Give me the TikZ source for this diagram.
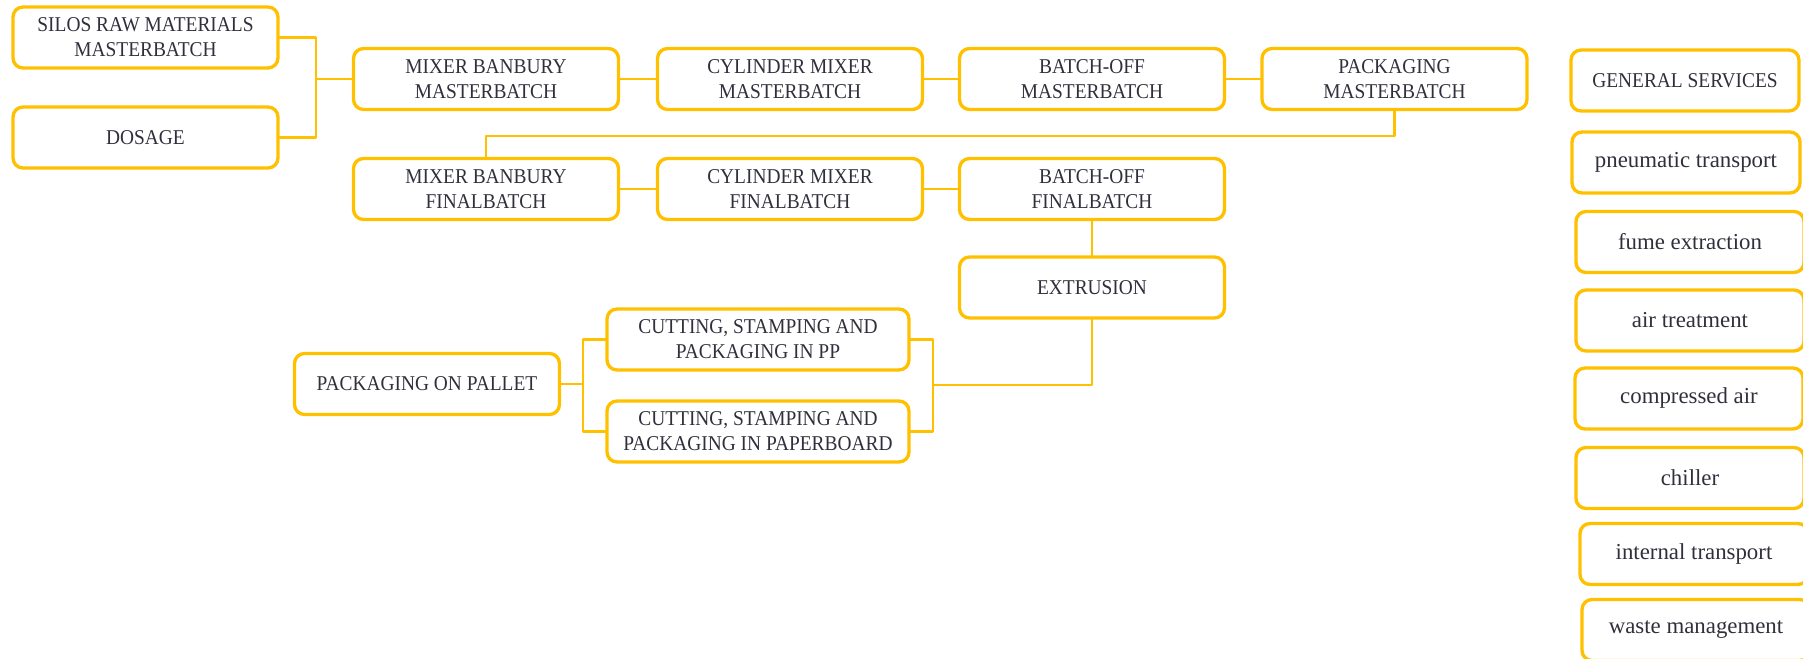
\documentclass[tikz,border=0pt]{standalone}
\usepackage{fontspec}
\setmainfont{Liberation Serif}
\newfontfamily\capsfont[FakeStretch=0.92]{Liberation Serif}
\definecolor{gold}{HTML}{FFC000}
\definecolor{ink}{HTML}{30303C}
\begin{document}
\begin{tikzpicture}[x=0.02cm, y=-0.02cm, line join=round, line cap=round,
	box/.style={draw=gold, line width=1.9pt, rounded corners=0.2cm, minimum width=5.3cm, minimum height=1.22cm, inner sep=2pt, align=center, text=ink, font=\capsfont\fontsize{12}{14.2}\selectfont},
	svc/.style={box, minimum width=4.56cm, font=\fontsize{13}{15}\selectfont},
	link/.style={draw=gold, line width=1.4pt}]
	\useasboundingbox (0,0) rectangle (1803,659); % khung hình
	\node[box] (silos) at (145.5,37.5) {SILOS RAW MATERIALS\\MASTERBATCH};
	\node[box] (dosage) at (145.5,137.5) {DOSAGE};
	\node[box] (mixmb) at (486,79) {MIXER BANBURY\\MASTERBATCH};
	\node[box] (cylmb) at (790,79) {CYLINDER MIXER\\MASTERBATCH};
	\node[box] (batmb) at (1092,79) {BATCH-OFF\\MASTERBATCH};
	\node[box] (packmb) at (1394.5,79) {PACKAGING\\MASTERBATCH};
	\node[box] (mixfb) at (486,189) {MIXER BANBURY\\FINALBATCH};
	\node[box] (cylfb) at (790,189) {CYLINDER MIXER\\FINALBATCH};
	\node[box] (batfb) at (1092,189) {BATCH-OFF\\FINALBATCH};
	\node[box] (extr) at (1092,287.5) {EXTRUSION};
	\node[box, minimum width=6.04cm] (cutpp) at (758,339.5) {CUTTING, STAMPING AND\\PACKAGING IN PP};
	\node[box, minimum width=6.04cm] (cutpb) at (758,431.5) {CUTTING, STAMPING AND\\PACKAGING IN PAPERBOARD};
	\node[box] (pallet) at (427,384) {PACKAGING ON PALLET};
	
	\node[box, minimum width=4.56cm] (gen) at (1685,80.5) {GENERAL SERVICES};
	\node[svc] (pneu) at (1686,162.5) {pneumatic transport};
	\node[svc] (fume) at (1690,242) {fume extraction};
	\node[svc] (air) at (1690,320.5) {air treatment};
	\node[svc] (comp) at (1689,398.5) {compressed air};
	\node[svc] (chil) at (1690,478) {chiller};
	\node[svc] (intr) at (1694,554) {internal transport};
	\node[svc] (waste) at (1696,630) {waste management};
	
	\coordinate (j1) at (316,79);
	\coordinate (j2) at (486,136);
	\coordinate (j3) at (933,385);
	\coordinate (j4) at (583,384);
	\draw[link] (silos.east) -| (j1) |- (dosage.east) (j1) -- (mixmb.west);
	\draw[link] (mixmb) -- (cylmb) (cylmb) -- (batmb) (batmb) -- (packmb);
	\draw[link] (packmb.south) |- (j2) -- (mixfb.north);
	\draw[link] (mixfb) -- (cylfb) (cylfb) -- (batfb) (batfb) -- (extr);
	\draw[link] (extr.south) |- (j3) (cutpp.east) -| (j3) |- (cutpb.east);
	\draw[link] (cutpp.west) -| (j4) |- (cutpb.west) (j4) -- (pallet.east);
\end{tikzpicture}
\end{document}
